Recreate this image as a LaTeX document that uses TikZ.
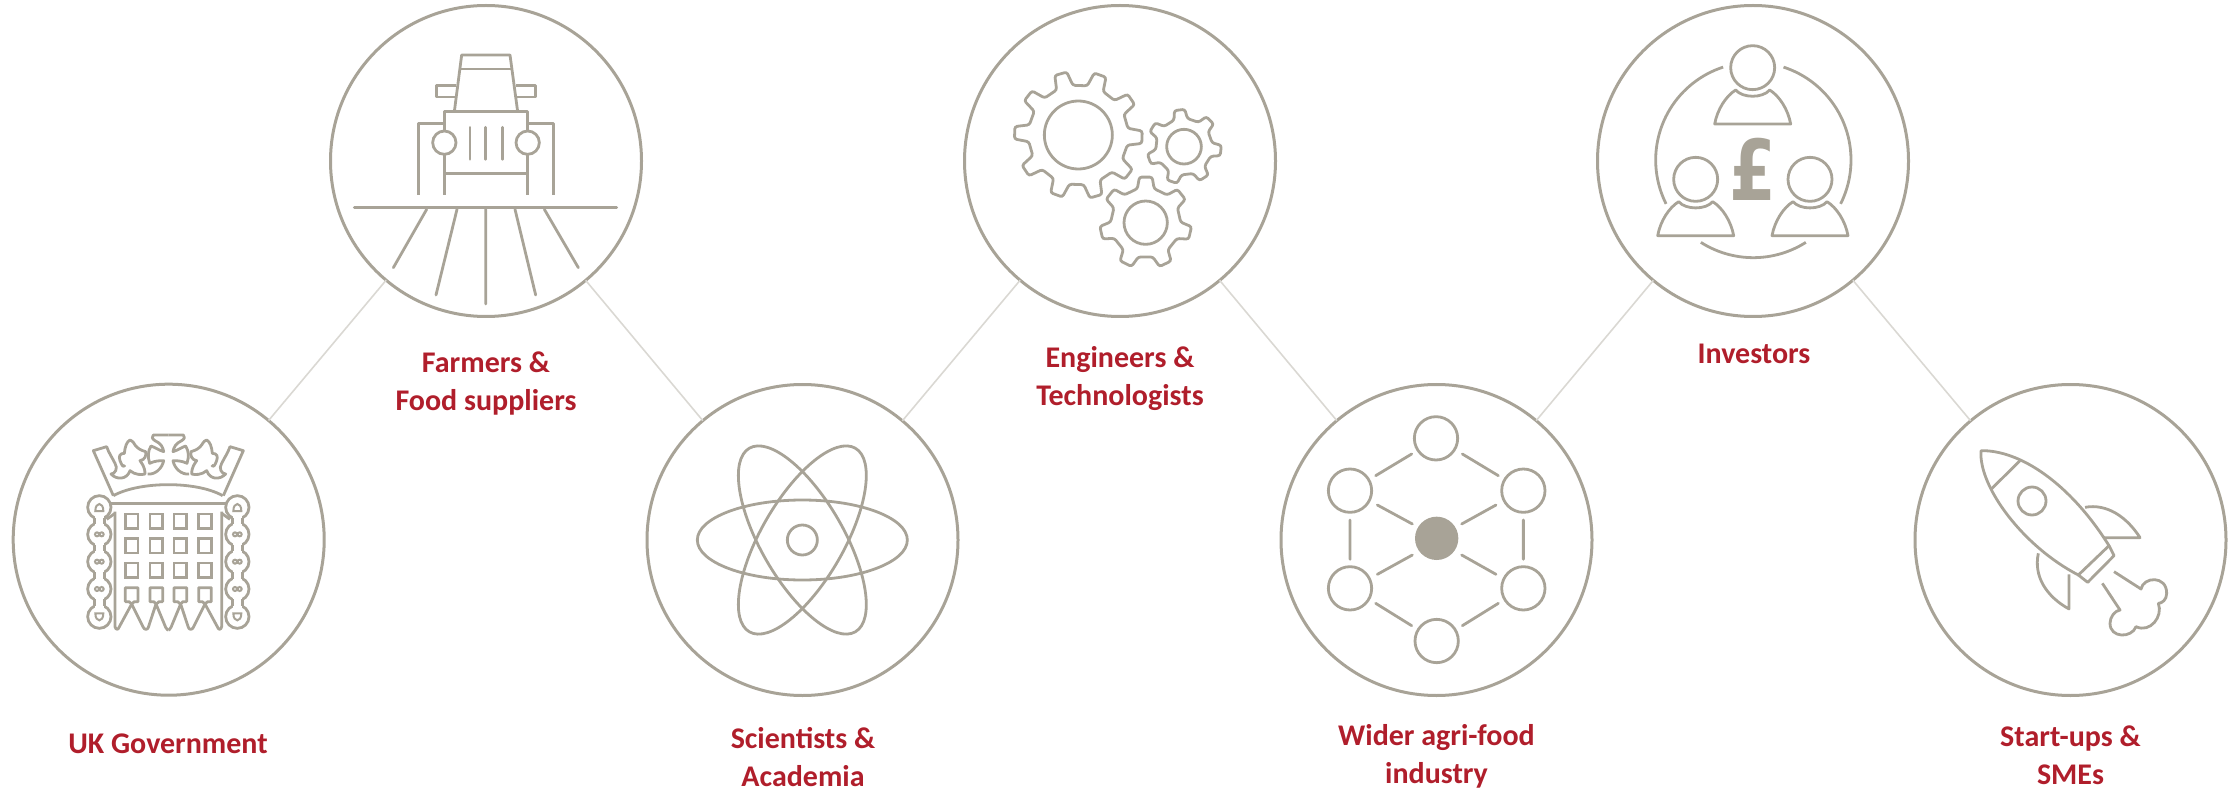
\documentclass[tikz,border=0pt]{standalone}
\usepackage{fontspec}
\setmainfont{Carlito}
\newfontfamily\poundfont{DejaVu Sans}
\definecolor{stone}{HTML}{A8A397}
\definecolor{linkgrey}{HTML}{DAD8D3}
\definecolor{labelred}{HTML}{B01E2B}
\newcommand{\gearpath}[7]{% cx cy rout rroot rhole n offset
  \pgfmathsetmacro{\gstep}{360/#6}
  \pgfmathsetmacro{\gN}{int(#6-1)}
  \draw[icon,rounded corners=1.2pt]
    \foreach \gi in {0,...,\gN}{
      \ifnum\gi=0
        ({#1+#4*cos(#7-0.27*\gstep)},{#2-#4*sin(#7-0.27*\gstep)})
      \else
        -- ({#1+#4*cos(#7+\gi*\gstep-0.27*\gstep)},{#2-#4*sin(#7+\gi*\gstep-0.27*\gstep)})
      \fi
      -- ({#1+#3*cos(#7+\gi*\gstep-0.155*\gstep)},{#2-#3*sin(#7+\gi*\gstep-0.155*\gstep)})
      -- ({#1+#3*cos(#7+\gi*\gstep+0.155*\gstep)},{#2-#3*sin(#7+\gi*\gstep+0.155*\gstep)})
      -- ({#1+#4*cos(#7+\gi*\gstep+0.27*\gstep)},{#2-#4*sin(#7+\gi*\gstep+0.27*\gstep)})
    } -- cycle;
  \draw[icon] (#1,#2) circle[radius=#5];
}
\newcommand{\person}[2]{%
  \draw[icon] (#1,#2) circle[radius=66];
  \draw[icon,line join=round] ({#1-114},{#2+169}) -- ({#1+114},{#2+169})
    .. controls ({#1+106},{#2+125}) and ({#1+80},{#2+85}) .. ({#1+51},{#2+67})
    .. controls ({#1+30},{#2+92}) and ({#1-30},{#2+92}) .. ({#1-51},{#2+67})
    .. controls ({#1-80},{#2+85}) and ({#1-106},{#2+125}) .. ({#1-114},{#2+169}) -- cycle;
}
\tikzset{
  hub/.style={circle,draw=stone,line width=1.5pt,minimum size=155.5pt,inner sep=0pt,outer sep=0pt},
  link/.style={draw=linkgrey,line width=0.8pt},
  icon/.style={draw=stone,line width=1.4pt},
  thinicon/.style={draw=stone,line width=1pt},
  lab/.style={text=labelred,font=\fontsize{15}{19}\selectfont\bfseries,align=center,inner sep=0pt},
  zoomed/.style={x=0.16667pt,y=-0.16667pt}
}
\begin{document}
\begin{tikzpicture}[x=0.5pt,y=-0.5pt]
\useasboundingbox (0,0) rectangle (2239,791);
\node[hub] (uk) at (168.7,539.7) {};
\node[hub] (farm) at (486,161) {};
\node[hub] (sci) at (802.5,540) {};
\node[hub] (eng) at (1120,161) {};
\node[hub] (ind) at (1436.5,540) {};
\node[hub] (inv) at (1753,161) {};
\node[hub] (sme) at (2070.5,540) {};
\draw[link] (uk) -- (farm);
\draw[link] (farm) -- (sci);
\draw[link] (sci) -- (eng);
\draw[link] (eng) -- (ind);
\draw[link] (ind) -- (inv);
\draw[link] (inv) -- (sme);
% labels
\node[lab] (luk) at (168,744) {UK Government};
\node[lab] (lfarm) at (486,384) {Farmers \&\\Food suppliers};
\node[lab] (lsci) at (803,757) {Scientists \&\\Academia};
\node[lab] (leng) at (1120,379) {Engineers \&\\Technologists};
\node[lab] (lind) at (1436.5,756) {Wider agri-food\\industry};
\node[lab] (linv) at (1754,354) {Investors};
\node[lab] (lsme) at (2070.5,755) {Start-ups \&\\SMEs};

% ---- portcullis
\begin{scope}[shift={(0,400)},zoomed]
  \foreach \s in {1,-1}{
    % crown half
    \draw[icon,line join=round] (505-\s*165,287) -- (505-\s*225,152) -- (505-\s*185,140)
      .. controls (505-\s*178,160) and (505-\s*170,170) .. (505-\s*160,190)
      .. controls (505-\s*150,205) and (505-\s*160,222) .. (505-\s*172,222)
      .. controls (505-\s*155,240) and (505-\s*125,240) .. (505-\s*115,212)
      .. controls (505-\s*100,225) and (505-\s*80,225) .. (505-\s*70,222)
      .. controls (505-\s*70,200) and (505-\s*80,190) .. (505-\s*85,182)
      .. controls (505-\s*70,180) and (505-\s*65,165) .. (505-\s*68,155)
      .. controls (505-\s*85,150) and (505-\s*92,145) .. (505-\s*100,135)
      .. controls (505-\s*105,125) and (505-\s*112,120) .. (505-\s*115,120)
      .. controls (505-\s*125,125) and (505-\s*130,140) .. (505-\s*132,160)
      .. controls (505-\s*145,160) and (505-\s*150,168) .. (505-\s*145,182)
      .. controls (505-\s*140,195) and (505-\s*135,205) .. (505-\s*130,195);
    % central cross half
    \draw[icon,line join=round] (505,105) -- (505-\s*45,105) .. controls (505-\s*50,110) and (505-\s*50,116) .. (505-\s*40,122)
      .. controls (505-\s*22,130) and (505-\s*16,142) .. (505-\s*14,155)
      .. controls (505-\s*30,150) and (505-\s*40,142) .. (505-\s*52,138)
      .. controls (505-\s*62,155) and (505-\s*62,170) .. (505-\s*56,190)
      .. controls (505-\s*40,182) and (505-\s*25,182) .. (505-\s*14,182)
      .. controls (505-\s*18,205) and (505-\s*40,225) .. (505-\s*62,222);
    % chain
    \draw[icon] (505-\s*207,322) circle[radius=35] (505-\s*207,403) circle[radius=35] (505-\s*207,485) circle[radius=35] (505-\s*207,567) circle[radius=35] (505-\s*207,650) circle[radius=35];
    \fill[white] (505-\s*207-14,322) rectangle (505-\s*207+14,650);
    \foreach \ny in {322,403,485,567}{
      \draw[icon] (505-\s*207-15,\ny+31) -- (505-\s*207-15,\ny+51) (505-\s*207+15,\ny+31) -- (505-\s*207+15,\ny+51);
    }
    % chain details
    \draw[thinicon] (505-\s*207-7,403) circle[radius=6] (505-\s*207+7,403) circle[radius=6]
      (505-\s*207-7,485) circle[radius=6] (505-\s*207+7,485) circle[radius=6]
      (505-\s*207-7,567) circle[radius=6] (505-\s*207+7,567) circle[radius=6];
    \draw[thinicon] (505-\s*207-12,333) .. controls (505-\s*207-12,305) and (505-\s*207+12,305) .. (505-\s*207+12,333) -- cycle;
    \draw[thinicon] (505-\s*207-12,640) .. controls (505-\s*207-12,668) and (505-\s*207+12,668) .. (505-\s*207+12,640) -- cycle;
    % post
    \draw[icon,line join=round] (505-\s*160,335) -- (505-\s*160,680) .. controls (505-\s*158,690) and (505-\s*150,690) .. (505-\s*148,682) -- (505-\s*110,612) -- (505-\s*75,682) .. controls (505-\s*72,690) and (505-\s*62,690) .. (505-\s*60,682) -- (505-\s*37,612) -- (505-\s*8,682) .. controls (505-\s*5,690) and (505,690) .. (505,690);
    \draw[icon,line join=round] (505-\s*160,340) -- (505-\s*185,358);
    % grid
    \foreach \gx in {36,110}{
      \foreach \gy in {342,416,489}{
        \draw[icon] (505-\s*\gx-19,\gy) rectangle (505-\s*\gx+19,\gy+43);
      }
      \draw[icon,line join=round] (505-\s*\gx-19,605) -- (505-\s*\gx-19,563) -- (505-\s*\gx+19,563) -- (505-\s*\gx+19,605) -- (505-\s*\gx+8,605) -- (505-\s*\gx,612) -- (505-\s*\gx-8,605) -- cycle;
    }
  }
  \draw[icon] (330,310) -- (680,310);
  \draw[icon] (340,287) .. controls (420,243) and (590,243) .. (668,287);
\end{scope}

% ---- tractor
\begin{scope}[shift={(320,0)},zoomed]
  \draw[icon,line join=round] (403,335) -- (425,165) -- (570,165) -- (593,335);
  \draw[icon] (422,207) -- (574,207);
  \draw[icon,line join=round] (408,256) -- (350,256) -- (350,291) -- (405,291);
  \draw[icon,line join=round] (587,256) -- (647,256) -- (647,291) -- (590,291);
  \draw[icon,line join=round] (373,393) -- (373,335) -- (623,335) -- (623,393);
  \draw[icon] (373,428) circle[radius=35] (623,428) circle[radius=35];
  \draw[icon] (373,463) -- (373,585) (623,463) -- (623,585) (373,520) -- (623,520);
  \draw[icon,line cap=round] (450,382) -- (450,478) (497,382) -- (497,478) (547,382) -- (547,478);
  \draw[icon,line join=round] (373,370) -- (296,370) -- (296,585);
  \draw[icon,line join=round] (623,370) -- (700,370) -- (700,585);
  \draw[icon,line cap=round] (103,623) -- (890,623);
  \draw[icon,line cap=round] (320,628) -- (220,803) (411,628) -- (348,885) (497,628) -- (497,912) (585,628) -- (647,885) (673,628) -- (775,803);
\end{scope}

% ---- atom
\begin{scope}[shift={(640,400)},zoomed]
  \draw[icon] (487,420) circle[radius=45];
  \draw[icon] (487,420) ellipse[x radius=315,y radius=120];
  \begin{scope}[shift={(487,420)}]
    \draw[icon,rotate=60] (0,0) ellipse[x radius=318,y radius=124];
    \draw[icon,rotate=-60] (0,0) ellipse[x radius=318,y radius=124];
  \end{scope}
\end{scope}

% ---- gears
\begin{scope}[shift={(960,0)},zoomed]
  \gearpath{355}{405}{192}{150}{102}{10}{-2}
  \gearpath{672}{440}{112}{85}{52}{7}{-6}
  \gearpath{557}{668}{138}{105}{65}{7}{-13}
\end{scope}

% ---- network
\begin{scope}[shift={(1270,400)},zoomed]
  \draw[icon] (498,115) circle[radius=65] (240,272) circle[radius=65] (760,272) circle[radius=65] (240,565) circle[radius=65] (760,565) circle[radius=65] (500,723) circle[radius=65];
  \fill[stone] (500,415) circle[radius=65];
  \draw[icon,line cap=round] (317,227) -- (425,162) (577,162) -- (685,227) (322,315) -- (427,372) (575,372) -- (678,315) (240,360) -- (240,478) (760,360) -- (760,478) (322,523) -- (427,465) (575,465) -- (678,523) (317,610) -- (425,677) (577,677) -- (685,610);
\end{scope}

% ---- investors
\begin{scope}[shift={(1590,0)},zoomed]
  \person{488}{203}
  \person{317}{538}
  \person{660}{538}
  \draw[icon] plot[domain=108:206.7,samples=40,smooth] ({490+293*cos(\x)},{480-293*sin(\x)});
  \draw[icon] plot[domain=72:-26.7,samples=40,smooth] ({490+293*cos(\x)},{480-293*sin(\x)});
  \draw[icon] plot[domain=237.5:302.5,samples=30,smooth] ({490+293*cos(\x)},{480-293*sin(\x)});
  \node[text=stone,font=\fontsize{42}{42}\selectfont\poundfont\bfseries,inner sep=0pt] (pound) at (489,507) {\scalebox{0.8}[1]{£}};
\end{scope}

% ---- rocket
\begin{scope}[shift={(1910,400)},zoomed]
  \draw[icon,line join=round] (213,152) .. controls (330,150) and (480,250) .. (597,437) -- (505,525) .. controls (340,440) and (205,260) .. (213,152) -- cycle;
  \draw[icon] (330,182) -- (243,268);
  \draw[icon] (366,303) circle[radius=42];
  \draw[icon,line join=round] (597,437) -- (612,467) -- (533,547) -- (505,525);
  \draw[icon,line join=round] (525,322) .. controls (590,310) and (650,350) .. (690,413) -- (582,413);
  \draw[icon,line join=round] (385,460) .. controls (370,530) and (410,590) .. (477,627) -- (477,523);
  \draw[icon,line join=round] (612,515) -- (693,567) .. controls (700,530) and (770,525) .. (770,580) .. controls (770,600) and (755,610) .. (745,610) .. controls (760,650) and (720,700) .. (678,680) .. controls (665,715) and (600,715) .. (600,670) .. controls (600,650) and (615,632) .. (630,630) -- (577,550);
\end{scope}
\end{tikzpicture}
\end{document}
